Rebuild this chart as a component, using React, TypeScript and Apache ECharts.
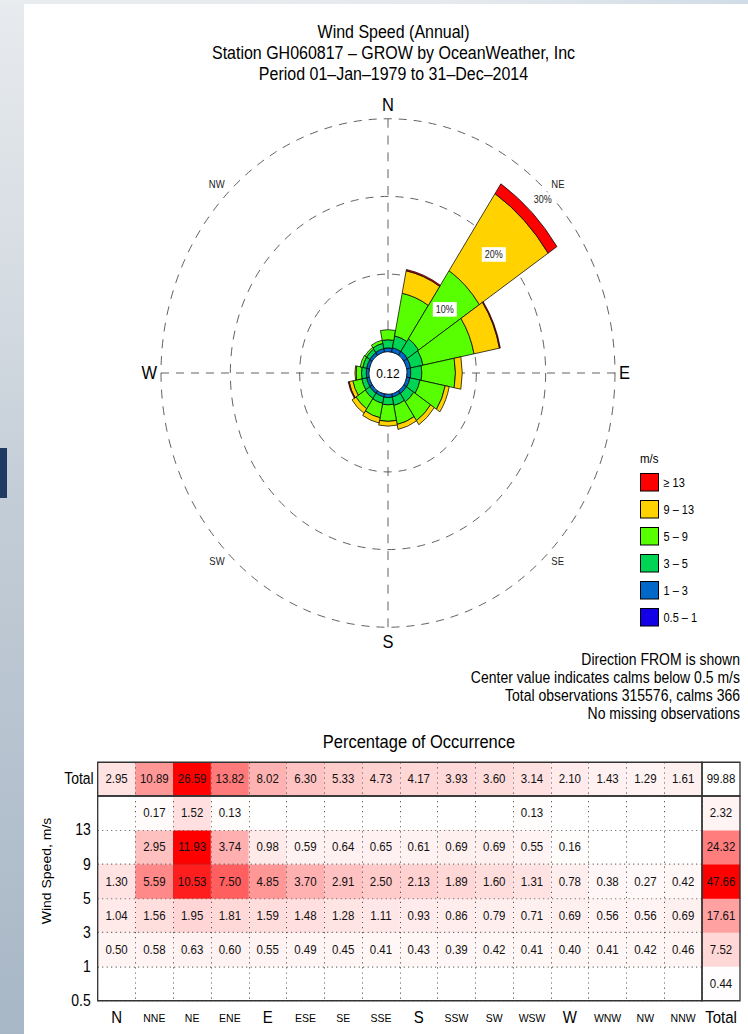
import React, { useEffect, useRef } from "react";
import * as echarts from "echarts";

// ---------- data ----------
const DIRS = ["N", "NNE", "NE", "ENE", "E", "ESE", "SE", "SSE", "S", "SSW", "SW", "WSW", "W", "WNW", "NW", "NNW"];
const BIG_DIRS = ["N", "E", "S", "W"];
const DIAG_DIRS = ["NE", "SE", "SW", "NW"];
// speed bins, inner -> outer (bottom -> top of table)
const BIN_NAMES = ["0.5 – 1", "1 – 3", "3 – 5", "5 – 9", "9 – 13", "≥ 13"];
const BIN_COLORS = ["#1400e6", "#0068c8", "#00d454", "#58ff00", "#ffd200", "#ff0000"];
const SPEED_TICKS = ["0.5", "1", "3", "5", "9", "13", ""];

const N = null;
const pct05to1 = [N, N, N, N, N, N, N, N, N, N, N, N, N, N, N, N];
const pct1to3 = [0.50, 0.58, 0.63, 0.60, 0.55, 0.49, 0.45, 0.41, 0.43, 0.39, 0.42, 0.41, 0.40, 0.41, 0.42, 0.46];
const pct3to5 = [1.04, 1.56, 1.95, 1.81, 1.59, 1.48, 1.28, 1.11, 0.93, 0.86, 0.79, 0.71, 0.69, 0.56, 0.56, 0.69];
const pct5to9 = [1.30, 5.59, 10.53, 7.50, 4.85, 3.70, 2.91, 2.50, 2.13, 1.89, 1.60, 1.31, 0.78, 0.38, 0.27, 0.42];
const pct9to13 = [N, 2.95, 11.93, 3.74, 0.98, 0.59, 0.64, 0.65, 0.61, 0.69, 0.69, 0.55, 0.16, N, N, N];
const pctGe13 = [N, 0.17, 1.52, 0.13, N, N, N, N, N, N, N, 0.13, N, N, N, N];
const BIN_DATA = [pct05to1, pct1to3, pct3to5, pct5to9, pct9to13, pctGe13];

const dirTotals = [2.95, 10.89, 26.59, 13.82, 8.02, 6.30, 5.33, 4.73, 4.17, 3.93, 3.60, 3.14, 2.10, 1.43, 1.29, 1.61];
const binTotals = [0.44, 7.52, 17.61, 47.66, 24.32, 2.32]; // bottom -> top
const grandTotal = 99.88;
const calmValue = 0.12;
const PCT_RINGS = [10, 20, 30];

const TITLE_LINES = [
  "Wind Speed (Annual)",
  "Station GH060817 – GROW by OceanWeather, Inc",
  "Period 01–Jan–1979 to 31–Dec–2014",
];
const NOTE_LINES = [
  "Direction FROM is shown",
  "Center value indicates calms below 0.5 m/s",
  "Total observations 315576, calms 366",
  "No missing observations",
];

// ---------- layout ----------
const SY = 1.12; // reference is vertically stretched
const CW = 748;
const CH = 1034 / SY;
const FONT = "'Liberation Sans', Arial, Helvetica, sans-serif";
const y = (v: number) => v / SY;

const CX = 388;
const CY = y(373);
const R0 = 19;
const R1 = 227;
const RMAX = 30;

const T_LEFT = 97.7;
const T_SEP_X = 702;
const T_RIGHT = 740;
const T_TOP = y(762.3);
const T_SEP_Y = y(796);
const T_BOTTOM = y(1000.7);

const dotted = { color: "#555", width: 1, type: [1, 3.5] as any };
const dashed = { color: "#444", width: 0.8, type: [8, 7] as any };

function buildOption() {
  const barSeries = BIN_NAMES.map((name, i) => ({
    type: "bar",
    name,
    coordinateSystem: "polar",
    polarIndex: 0,
    stack: "rose",
    barCategoryGap: "0%",
    data: BIN_DATA[i],
    itemStyle: { color: BIN_COLORS[i], borderColor: "#000", borderWidth: 0.7 },
    z: 3,
  }));

  const bodyData: any[] = [];
  BIN_DATA.forEach((arr, yi) => arr.forEach((v, xi) => { if (v != null) bodyData.push([xi, yi, v]); }));
  const totRowData = dirTotals.map((v, xi) => [xi, 0, v]);
  const totColData = binTotals.map((v, yi) => [0, yi, v]);

  const cellLabel = {
    show: true,
    fontSize: 11.5,
    color: "#111",
    fontFamily: FONT,
    formatter: (p: any) => Number(p.value[2]).toFixed(2),
  };

  const heatSeries = [
    { type: "heatmap", name: "body", xAxisIndex: 0, yAxisIndex: 0, data: bodyData, label: cellLabel },
    { type: "heatmap", name: "totRow", xAxisIndex: 1, yAxisIndex: 2, data: totRowData, label: cellLabel },
    { type: "heatmap", name: "totCol", xAxisIndex: 2, yAxisIndex: 3, data: totColData, label: cellLabel },
    { type: "heatmap", name: "grand", xAxisIndex: 3, yAxisIndex: 4, data: [[0, 0, grandTotal]], label: cellLabel },
  ];

  const maxOf = (a: any[]) => Math.max(...a.filter((v) => v != null));
  const bodyMax = Math.max(...BIN_DATA.map(maxOf));

  const ringLabelGraphics = PCT_RINGS.map((p) => {
    const r = R0 + ((R1 - R0) * p) / RMAX - 8;
    const a = Math.PI / 4;
    return {
      type: "text",
      x: CX + r * Math.sin(a),
      y: CY - r * Math.cos(a),
      z: 20,
      style: {
        text: p + "%",
        fontSize: 9,
        fontFamily: FONT,
        fill: "#222",
        align: "center",
        verticalAlign: "middle",
        backgroundColor: "#fff",
        padding: [2, 3],
      },
    };
  });

  const txt = (text: string, x: number, yy: number, size: number, align = "center", extra: any = {}) => ({
    type: "text",
    x,
    y: yy,
    z: 20,
    ...extra,
    style: { text, fontSize: size, fontFamily: FONT, fill: "#000", align, verticalAlign: "middle" },
  });

  const graphics: any[] = [
    ...TITLE_LINES.map((t, i) => txt(t, 393.5, y(32 + i * 21), 16)),
    ...NOTE_LINES.map((t, i) => txt(t, 740, y(660 + i * 18), 14, "right")),
    txt("Percentage of Occurrence", 419, y(742), 16.5),
    txt(String(calmValue), CX, CY, 12),
    txt("m/s", 640, y(459), 11.5, "left"),
    txt("Wind Speed, m/s", 47, y(871), 12.5, "center", { rotation: Math.PI / 2 }),
    ...ringLabelGraphics,
  ];

  const gridStyle = { show: true, borderColor: "#333", borderWidth: 1.3, backgroundColor: "transparent", z: 6 };

  return {
    animation: false,
    backgroundColor: "transparent",
    textStyle: { fontFamily: FONT, color: "#000" },
    polar: [
      { center: [CX, CY], radius: [R0, R1] },
      { center: [CX, CY], radius: [R0, R1] },
    ],
    angleAxis: [
      {
        polarIndex: 0,
        type: "category",
        data: DIRS,
        startAngle: 90 + 360 / 32,
        clockwise: true,
        boundaryGap: true,
        axisLine: { show: false },
        axisTick: { show: false },
        splitLine: { show: false },
        axisLabel: {
          show: true,
          interval: 0,
          margin: 4,
          formatter: (v: string) =>
            BIG_DIRS.includes(v) ? `{big|${v}}` : DIAG_DIRS.includes(v) ? `{small|${v}}` : "",
          rich: {
            big: { fontSize: 16.5, fontFamily: FONT, color: "#000" },
            small: { fontSize: 9.5, fontFamily: FONT, color: "#222" },
          },
        },
      },
      {
        polarIndex: 1,
        type: "value",
        min: 0,
        max: 360,
        interval: 90,
        startAngle: 90,
        axisLine: { show: false },
        axisTick: { show: false },
        axisLabel: { show: false },
        splitLine: { show: true, lineStyle: dashed },
      },
    ],
    radiusAxis: [
      {
        polarIndex: 0,
        type: "value",
        min: 0,
        max: RMAX,
        interval: 10,
        axisLine: { show: false },
        axisTick: { show: false },
        axisLabel: { show: false },
        splitLine: { show: true, lineStyle: dashed },
      },
      { polarIndex: 1, type: "value", min: 0, max: 1, show: false },
    ],
    legend: {
      data: [...BIN_NAMES].reverse(),
      orient: "vertical",
      left: 640,
      top: y(473),
      padding: 0,
      itemWidth: 18,
      itemHeight: 15.6,
      itemGap: 7.5,
      icon: "rect",
      selectedMode: false,
      itemStyle: { borderColor: "#000", borderWidth: 1 },
      textStyle: { fontSize: 11, fontFamily: FONT, color: "#000" },
    },
    grid: [
      { left: T_LEFT, top: T_SEP_Y, width: T_SEP_X - T_LEFT, height: T_BOTTOM - T_SEP_Y, ...gridStyle },
      { left: T_LEFT, top: T_TOP, width: T_SEP_X - T_LEFT, height: T_SEP_Y - T_TOP, ...gridStyle },
      { left: T_SEP_X, top: T_SEP_Y, width: T_RIGHT - T_SEP_X, height: T_BOTTOM - T_SEP_Y, ...gridStyle },
      { left: T_SEP_X, top: T_TOP, width: T_RIGHT - T_SEP_X, height: T_SEP_Y - T_TOP, ...gridStyle },
    ],
    xAxis: [
      {
        gridIndex: 0,
        type: "category",
        data: DIRS,
        z: 5,
        axisLine: { show: false },
        axisTick: { show: false },
        splitLine: { show: true, interval: 0, lineStyle: dotted },
        axisLabel: {
          interval: 0,
          margin: 6,
          formatter: (v: string) => (BIG_DIRS.includes(v) ? `{big|${v}}` : `{small|${v}}`),
          rich: {
            big: { fontSize: 15, lineHeight: 18, fontFamily: FONT, color: "#000" },
            small: { fontSize: 10.5, lineHeight: 18, fontFamily: FONT, color: "#000" },
          },
        },
      },
      {
        gridIndex: 1,
        type: "category",
        data: DIRS,
        z: 5,
        axisLine: { show: false },
        axisTick: { show: false },
        axisLabel: { show: false },
        splitLine: { show: true, interval: 0, lineStyle: dotted },
      },
      {
        gridIndex: 2,
        type: "category",
        data: ["Total"],
        axisLine: { show: false },
        axisTick: { show: false },
        axisLabel: { margin: 6, fontSize: 15, lineHeight: 18, color: "#000" },
      },
      {
        gridIndex: 3,
        type: "category",
        data: ["Total"],
        axisLine: { show: false },
        axisTick: { show: false },
        axisLabel: { show: false },
      },
    ],
    yAxis: [
      {
        gridIndex: 0,
        type: "category",
        position: "left",
        data: BIN_NAMES,
        z: 5,
        axisLine: { show: false },
        axisTick: { show: false },
        axisLabel: { show: false },
        splitLine: { show: true, interval: 0, lineStyle: dotted },
      },
      {
        gridIndex: 0,
        type: "value",
        position: "left",
        offset: 0,
        min: 0,
        max: SPEED_TICKS.length - 1,
        interval: 1,
        axisLine: { show: false },
        axisTick: { show: false },
        splitLine: { show: false },
        axisLabel: {
          margin: 7,
          fontSize: 14,
          color: "#000",
          formatter: (v: number) => SPEED_TICKS[Math.round(v)] ?? "",
        },
      },
      {
        gridIndex: 1,
        type: "category",
        data: ["Total"],
        axisLine: { show: false },
        axisTick: { show: false },
        axisLabel: { margin: 4, fontSize: 14, color: "#000" },
      },
      {
        gridIndex: 2,
        type: "category",
        data: BIN_NAMES,
        axisLine: { show: false },
        axisTick: { show: false },
        axisLabel: { show: false },
      },
      {
        gridIndex: 3,
        type: "category",
        data: ["Total"],
        axisLine: { show: false },
        axisTick: { show: false },
        axisLabel: { show: false },
      },
    ],
    visualMap: [
      { show: false, type: "continuous", seriesIndex: 6, dimension: 2, min: 0, max: bodyMax, inRange: { color: ["#ffffff", "#ff0000"] } },
      { show: false, type: "continuous", seriesIndex: 7, dimension: 2, min: 0, max: Math.max(...dirTotals), inRange: { color: ["#ffffff", "#ff0000"] } },
      { show: false, type: "continuous", seriesIndex: 8, dimension: 2, min: 0, max: Math.max(...binTotals), inRange: { color: ["#ffffff", "#ff0000"] } },
      { show: false, type: "continuous", seriesIndex: 9, dimension: 2, min: 0, max: grandTotal, inRange: { color: ["#ffffff", "#ffffff"] } },
    ],
    graphic: graphics,
    series: [...barSeries, ...heatSeries],
  };
}

export default function App() {
  const ref = useRef<HTMLDivElement>(null);
  useEffect(() => {
    if (!ref.current) return;
    const chart = echarts.init(ref.current, undefined, { renderer: "svg" });
    chart.setOption(buildOption() as any);
    return () => chart.dispose();
  }, []);

  return (
    <div
      style={{
        position: "fixed",
        left: 0,
        top: 0,
        width: 748,
        height: 1034,
        overflow: "hidden",
        background: "linear-gradient(180deg, #e8ebee 0%, #d3dae1 30%, #c2ccd6 50%, #a8b7c6 100%)",
      }}
    >
      <div
        style={{
          position: "absolute",
          left: 0,
          top: 0,
          width: 748,
          height: 4,
          background: "linear-gradient(90deg, #e9ecef 0%, #e6eaee 60%, #d0dce7 100%)",
        }}
      />
      <div style={{ position: "absolute", left: 24, top: 4, width: 724, height: 1030, background: "#fff" }} />
      {/* fragment of a slide letter behind the chart (decorative shape) */}
      <div style={{ position: "absolute", left: 0, top: 448, width: 7, height: 50, background: "#1f3a63" }} />
      <div style={{ position: "absolute", left: 0, top: 466, width: 3, height: 14, background: "#1f3a63", opacity: 0.6 }} />
      <div
        ref={ref}
        style={{
          position: "absolute",
          left: 0,
          top: 0,
          width: CW,
          height: CH,
          transform: `scaleY(${SY})`,
          transformOrigin: "0 0",
        }}
      />
    </div>
  );
}
